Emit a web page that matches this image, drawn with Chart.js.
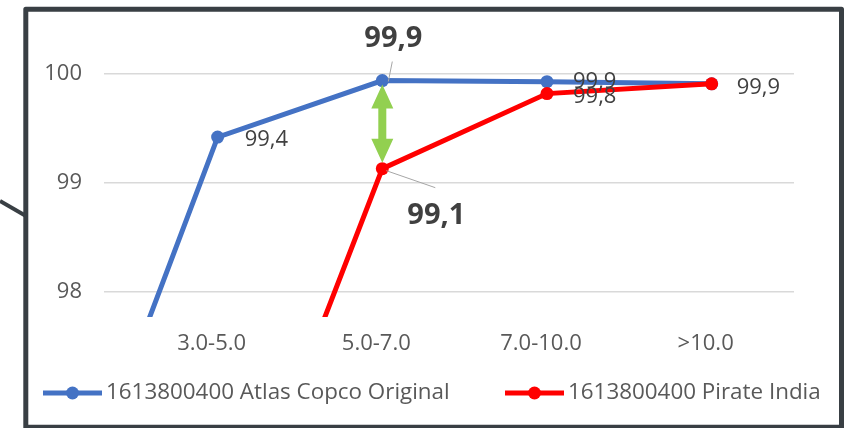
<!DOCTYPE html>
<html>
<head>
<meta charset="utf-8">
<script src="https://cdn.jsdelivr.net/npm/chart.js@4/dist/chart.umd.min.js"></script>
<style>
  html, body { margin: 0; padding: 0; background: #ffffff; }
  #wrap { width: 856px; height: 428px; }
</style>
</head>
<body>
<div id="wrap"><canvas id="c" width="856" height="428"></canvas></div>
<script>
// Size bands; the first band sits left of the visible range.
const categories = ['<3.0', '3.0-5.0', '5.0-7.0', '7.0-10.0', '>10.0'];
const shownCategories = [1, 2, 3, 4];
const atlasValues = [95.41, 99.42, 99.94, 99.93, 99.91];
const pirateValues = [null, 95.22, 99.13, 99.82, 99.91];
const yTickValues = [98, 99, 100];
const seriesNames = ['1613800400 Atlas Copco Original', '1613800400 Pirate India'];

const FONT = '"Open Sans", "Noto Sans", sans-serif';
const BLUE = '#4472c4';
const RED = '#ff0000';
const TEXT = '#595959';
const LABEL = '#404040';

const toPoints = vals => vals.map((v, i) => ({ x: i, y: v }));

// Where each value label sits relative to its point.
const labelStyles = [
  [null,
   { dx: 27, dy: 3, align: 'left' },
   { dx: 11, dy: -42, align: 'center', bold: true, leader: [6, 1, 10, -19] },
   { dx: 26, dy: 0, align: 'left' },
   null],
  [null,
   null,
   { dx: 54, dy: 47, align: 'center', bold: true, leader: [4, 2, 53, 19] },
   { dx: 26, dy: 3, align: 'left' },
   { dx: 25, dy: 4, align: 'left' }]
];

const fmt = v => v.toFixed(1).replace('.', ',');

const valueLabels = {
  id: 'valueLabels',
  afterDatasetsDraw(chart) {
    const ctx = chart.ctx;
    // gap arrow between the two series at 5.0-7.0
    const gi = 2;
    const xs = chart.scales.x, ys = chart.scales.y;
    const gx = xs.getPixelForValue(gi);
    const top = ys.getPixelForValue(atlasValues[gi]) + 4;
    const bot = ys.getPixelForValue(pirateValues[gi]) - 6;
    const hw = 11, hl = 24, sw = 4;
    ctx.save();
    ctx.fillStyle = '#92d050';
    ctx.beginPath();
    ctx.moveTo(gx, top);
    ctx.lineTo(gx + hw, top + hl);
    ctx.lineTo(gx + sw, top + hl);
    ctx.lineTo(gx + sw, bot - hl);
    ctx.lineTo(gx + hw, bot - hl);
    ctx.lineTo(gx, bot);
    ctx.lineTo(gx - hw, bot - hl);
    ctx.lineTo(gx - sw, bot - hl);
    ctx.lineTo(gx - sw, top + hl);
    ctx.lineTo(gx - hw, top + hl);
    ctx.closePath();
    ctx.fill();
    ctx.restore();

    chart.data.datasets.forEach((ds, di) => {
      const meta = chart.getDatasetMeta(di);
      meta.data.forEach((el, i) => {
        const st = labelStyles[di][i];
        const v = ds.data[i].y;
        if (!st || v == null) return;
        ctx.save();
        if (st.leader) {
          const [x1, y1, x2, y2] = st.leader;
          ctx.strokeStyle = '#a6a6a6';
          ctx.lineWidth = 1;
          ctx.beginPath();
          ctx.moveTo(el.x + x1, el.y + y1);
          ctx.lineTo(el.x + x2, el.y + y2);
          ctx.stroke();
        }
        ctx.font = (st.bold ? 'bold 29px ' : '22px ') + FONT;
        ctx.fillStyle = LABEL;
        ctx.textAlign = st.align;
        ctx.textBaseline = 'middle';
        ctx.fillText(fmt(v), el.x + st.dx, el.y + st.dy);
        ctx.restore();
      });
    });
  }
};

const frameAndLegend = {
  id: 'frameAndLegend',
  afterDraw(chart) {
    const ctx = chart.ctx;
    ctx.save();
    // legend
    const starts = [43, 505];
    const ly = 393;
    chart.data.datasets.forEach((ds, i) => {
      const x = starts[i];
      ctx.strokeStyle = ds.borderColor;
      ctx.lineWidth = 5;
      ctx.beginPath();
      ctx.moveTo(x, ly);
      ctx.lineTo(x + 59, ly);
      ctx.stroke();
      ctx.fillStyle = ds.borderColor;
      ctx.beginPath();
      ctx.arc(x + 29.5, ly, 6.5, 0, Math.PI * 2);
      ctx.fill();
      ctx.fillStyle = TEXT;
      ctx.font = '22.4px ' + FONT;
      ctx.textAlign = 'left';
      ctx.textBaseline = 'middle';
      ctx.fillText(ds.label, x + 63, ly);
    });
    // outer frame and callout line
    ctx.strokeStyle = '#393f44';
    ctx.lineWidth = 5;
    ctx.lineJoin = 'round';
    ctx.strokeRect(25.8, 9.2, 815.7, 418);
    ctx.lineWidth = 4;
    ctx.beginPath();
    ctx.moveTo(0, 201);
    ctx.lineTo(26, 216);
    ctx.stroke();
    ctx.restore();
  }
};

new Chart(document.getElementById('c'), {
  type: 'line',
  data: {
    datasets: [
      {
        label: seriesNames[0],
        data: toPoints(atlasValues),
        borderColor: BLUE,
        backgroundColor: BLUE,
        borderWidth: 5,
        pointRadius: 6.5,
        pointBorderWidth: 0,
        pointBackgroundColor: BLUE,
        clip: 0,
        order: 1
      },
      {
        label: seriesNames[1],
        data: toPoints(pirateValues),
        borderColor: RED,
        backgroundColor: RED,
        borderWidth: 5,
        pointRadius: 6.5,
        pointBorderWidth: 0,
        pointBackgroundColor: RED,
        clip: 0,
        order: 0
      }
    ]
  },
  options: {
    responsive: false,
    animation: false,
    layout: { padding: { top: 19.6, right: 62, bottom: 0, left: 0 } },
    plugins: { legend: { display: false }, tooltip: { enabled: false } },
    scales: {
      x: {
        type: 'linear',
        min: 0.31,
        max: 4.5,
        grid: { display: false },
        border: { display: false },
        afterBuildTicks: s => { s.ticks = shownCategories.map(v => ({ value: v })); },
        afterFit: s => { s.height = 111; s.paddingLeft = 0; s.paddingRight = 0; },
        ticks: {
          callback: v => categories[v],
          font: { family: FONT, size: 22 },
          color: TEXT,
          padding: 6,
          labelOffset: -6,
          maxRotation: 0,
          autoSkip: false
        }
      },
      y: {
        min: 97.767,
        max: 100.5,
        afterBuildTicks: s => { s.ticks = yTickValues.map(v => ({ value: v })); },
        afterFit: s => { s.width = 104; s.paddingTop = 0; s.paddingBottom = 0; },
        grid: { color: '#d9d9d9', lineWidth: 1.5, drawTicks: false },
        border: { display: false },
        ticks: {
          padding: 22,
          font: { family: FONT, size: 22 },
          color: TEXT,
          callback: v => String(v)
        }
      }
    }
  },
  plugins: [valueLabels, frameAndLegend]
});
</script>
</body>
</html>
